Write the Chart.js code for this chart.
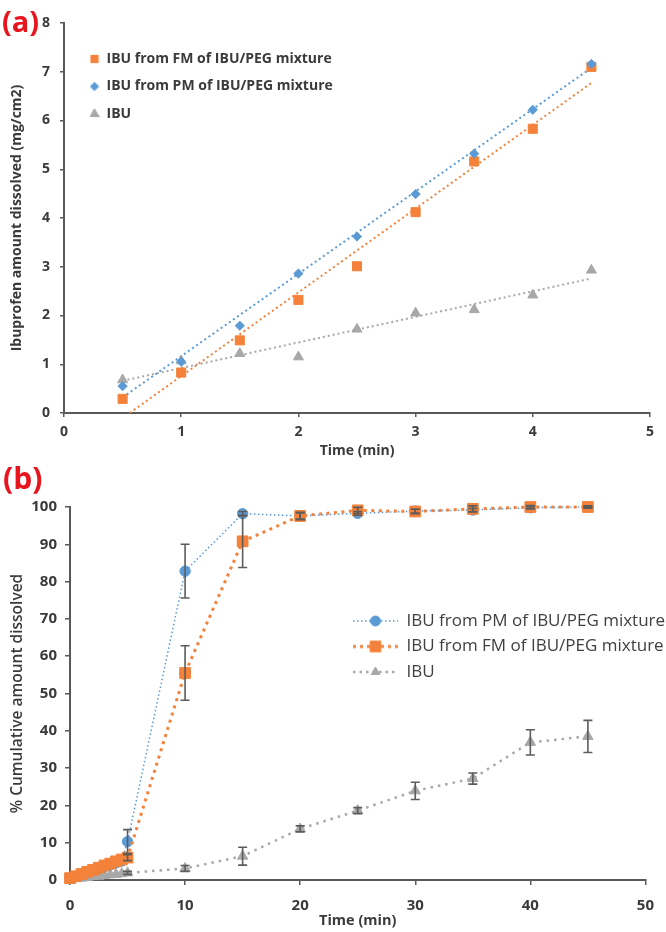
<!DOCTYPE html>
<html>
<head>
<meta charset="utf-8">
<script src="https://cdn.jsdelivr.net/npm/chart.js@4.4.1/dist/chart.umd.min.js"></script>
<style>
  html, body { margin: 0; padding: 0; background: #ffffff; }
  body { width: 666px; height: 932px; position: relative; overflow: hidden; }
  .panel { position: absolute; left: 0; width: 666px; height: 466px; }
  #pa { top: 0; }
  #pb { top: 466px; }
  .tag { position: absolute; color: #e8141e; font: bold 29px "Open Sans", sans-serif; line-height: 29px; }
</style>
</head>
<body>
<div class="panel" id="pa"><canvas id="ca" width="666" height="466"></canvas></div>
<div class="panel" id="pb"><canvas id="cb" width="666" height="466"></canvas></div>
<div class="tag" style="left:2px; top:6px;">(a)</div>
<div class="tag" style="left:3px; top:463px; font-size:30px;">(b)</div>
<script>
// ---------------- DATA: panel (a) ----------------
const seriesFM  = 'IBU from FM of IBU/PEG mixture';
const seriesPM  = 'IBU from PM of IBU/PEG mixture';
const seriesIBU = 'IBU';

const timeA = [0.5, 1, 1.5, 2, 2.5, 3, 3.5, 4, 4.5];
const fmA   = [0.29, 0.83, 1.49, 2.32, 3.01, 4.12, 5.16, 5.83, 7.10];
const pmA   = [0.55, 1.05, 1.79, 2.86, 3.62, 4.49, 5.32, 6.22, 7.16];
const ibuA  = [0.68, 1.07, 1.22, 1.15, 1.72, 2.05, 2.12, 2.42, 2.93];

// linear trend lines (end points)
const fmTrendX  = [0.56, 4.5];  const fmTrendY  = [0, 6.77];
const pmTrendX  = [0.5, 4.5];   const pmTrendY  = [0.32, 7.08];
const ibuTrendX = [0.5, 4.5];   const ibuTrendY = [0.66, 2.76];

const xTicksA = [0, 1, 2, 3, 4, 5];
const yTicksA = [0, 1, 2, 3, 4, 5, 6, 7, 8];

// ---------------- DATA: panel (b) ----------------
const timeB = [0, 0.5, 1, 1.5, 2, 2.5, 3, 3.5, 4, 4.5, 5, 10, 15, 20, 25, 30, 35, 40, 45];
const pmB   = [0.4, 0.9, 1.4, 2.0, 2.5, 3.0, 3.6, 4.1, 4.6, 5.1, 10.3, 82.8, 98.2, 97.6, 98.3, 98.9, 99.2, 99.8, 100];
const fmB   = [0.5, 1.0, 1.6, 2.2, 2.7, 3.3, 3.9, 4.4, 5.0, 5.5, 6.0, 55.5, 90.8, 97.6, 99.1, 98.8, 99.5, 100, 100];
const ibuB  = [0.2, 0.4, 0.5, 0.7, 0.9, 1.0, 1.2, 1.4, 1.5, 1.7, 1.9, 3.1, 6.4, 13.7, 18.6, 23.9, 27.2, 36.9, 38.5];
const pmErrB  = [0, 0, 0, 0, 0, 0, 0, 0, 0, 0, 3.2, 7.2, 0.6, 0.8, 0.5, 0.5, 0.4, 0.3, 0.2];
const fmErrB  = [0, 0, 0, 0, 0, 0, 0, 0, 0, 0, 0.8, 7.3, 7.0, 1.0, 0.8, 0.6, 0.8, 0.4, 0.3];
const ibuErrB = [0, 0, 0, 0, 0, 0, 0, 0, 0, 0, 0.4, 0.8, 2.4, 0.8, 0.8, 2.3, 1.5, 3.4, 4.3];

const xTicksB = [0, 10, 20, 30, 40, 50];
const yTicksB = [0, 10, 20, 30, 40, 50, 60, 70, 80, 90, 100];

// ---------------- STYLE ----------------
const C = { orange: '#F4823A', blue: '#5B9BD5', gray: '#A8A8A8', axis: '#595959', text: '#3a3a3a', err: '#5c5c5c' };
Chart.defaults.font.family = '"Open Sans", sans-serif';
Chart.defaults.color = C.text;

function pts(xs, ys) { return xs.map((x, i) => ({ x: x, y: ys[i] })); }

function glyph(w, h, color, style, r, dash, lw) {
  const c = document.createElement('canvas');
  c.width = w; c.height = h;
  const g = c.getContext('2d');
  if (dash) {
    g.strokeStyle = color; g.lineWidth = lw; g.setLineDash(dash);
    g.beginPath(); g.moveTo(0, h / 2); g.lineTo(w, h / 2); g.stroke();
    g.setLineDash([]);
  }
  g.fillStyle = color; g.strokeStyle = color; g.lineWidth = 1;
  Chart.helpers.drawPoint(g, { pointStyle: style, radius: r, borderWidth: 1, rotation: 0 }, w / 2, h / 2);
  return c;
}

function placeLegend(x, y) {
  return {
    id: 'placeLegend',
    afterLayout(chart) {
      const l = chart.legend;
      const w = l.width, h = l.height;
      l.left = x; l.top = y; l.right = x + w; l.bottom = y + h + 60;
    }
  };
}

const errorBars = {
  id: 'errorBars',
  afterDatasetsDraw(chart) {
    const ctx = chart.ctx, xs = chart.scales.x, ys = chart.scales.y;
    ctx.save();
    ctx.strokeStyle = C.err; ctx.lineWidth = 1.6;
    chart.data.datasets.forEach(ds => {
      if (!ds.errors) return;
      ds.data.forEach((p, i) => {
        const e = ds.errors[i];
        if (!e) return;
        const px = xs.getPixelForValue(p.x);
        const y1 = ys.getPixelForValue(p.y - e), y2 = ys.getPixelForValue(p.y + e);
        const cap = 4.5;
        ctx.beginPath();
        ctx.moveTo(px, y1); ctx.lineTo(px, y2);
        ctx.moveTo(px - cap, y1); ctx.lineTo(px + cap, y1);
        ctx.moveTo(px - cap, y2); ctx.lineTo(px + cap, y2);
        ctx.stroke();
      });
    });
    ctx.restore();
  }
};

function axisCommon(tickArr, fontSize, pad, tickLen) {
  return {
    type: 'linear',
    afterBuildTicks: s => { s.ticks = tickArr.map(v => ({ value: v })); },
    grid: { display: true, drawOnChartArea: false, drawTicks: true, tickLength: tickLen, color: C.axis, lineWidth: 1.5 },
    border: { display: true, color: C.axis, width: 2 },
    ticks: { padding: pad, font: { size: fontSize, weight: 'bold' }, color: C.text }
  };
}

// ---------------- CHART (a) ----------------
const xa = axisCommon(xTicksA, 14, 7, 4);
Object.assign(xa, { min: 0, max: 5, afterFit: s => { s.height = 53; },
  title: { display: true, text: 'Time (min)', color: C.text, font: { size: 14, weight: 'bold' }, padding: { top: 0, bottom: 7 } } });
const ya = axisCommon(yTicksA, 14, 10, 4);
Object.assign(ya, { min: 0, max: 8, afterFit: s => { s.width = 64; },
  title: { display: true, text: 'Ibuprofen amount dissolved (mg/cm2)', color: C.text, font: { size: 14, weight: 'bold' }, padding: { top: 9, bottom: 0 } } });

new Chart(document.getElementById('ca'), {
  type: 'scatter',
  data: {
    datasets: [
      { label: seriesPM, data: pts(timeA, pmA), pointStyle: 'rectRot', pointRadius: 4.6, backgroundColor: C.blue, borderColor: C.blue, borderWidth: 1, order: 0 },
      { label: seriesFM, data: pts(timeA, fmA), pointStyle: 'rect', pointRadius: 6.4, backgroundColor: C.orange, borderColor: C.orange, borderWidth: 1, order: 1 },
      { label: seriesIBU, data: pts(timeA, ibuA), pointStyle: 'triangle', pointRadius: 5.8, backgroundColor: C.gray, borderColor: C.gray, borderWidth: 1, order: 2 },
      { label: 'trendPM', data: pts(pmTrendX, pmTrendY), showLine: true, pointRadius: 0, borderColor: C.blue, borderWidth: 2, borderDash: [2, 3], order: 5 },
      { label: 'trendFM', data: pts(fmTrendX, fmTrendY), showLine: true, pointRadius: 0, borderColor: C.orange, borderWidth: 2, borderDash: [2, 3], order: 6 },
      { label: 'trendIBU', data: pts(ibuTrendX, ibuTrendY), showLine: true, pointRadius: 0, borderColor: C.gray, borderWidth: 2, borderDash: [2, 3], order: 7 }
    ]
  },
  options: {
    responsive: false, animation: false, devicePixelRatio: 1,
    layout: { padding: { left: 0, right: 16, top: 23, bottom: 0 } },
    plugins: {
      tooltip: { enabled: false },
      legend: {
        position: 'chartArea', align: 'start',
        labels: {
          usePointStyle: true, pointStyleWidth: 10, boxHeight: 14, padding: 13.5,
          color: C.text, font: { size: 14, weight: 'bold' },
          generateLabels: () => [
            { text: seriesFM,  pointStyle: glyph(10, 14, C.orange, 'rect', 5.2), fillStyle: C.orange, strokeStyle: C.orange, lineWidth: 0, hidden: false, datasetIndex: 1, fontColor: C.text },
            { text: seriesPM,  pointStyle: glyph(10, 14, C.blue, 'rectRot', 4.2), fillStyle: C.blue, strokeStyle: C.blue, lineWidth: 0, hidden: false, datasetIndex: 0, fontColor: C.text },
            { text: seriesIBU, pointStyle: glyph(10, 14, C.gray, 'triangle', 5.2), fillStyle: C.gray, strokeStyle: C.gray, lineWidth: 0, hidden: false, datasetIndex: 2, fontColor: C.text }
          ]
        }
      }
    },
    scales: { x: xa, y: ya }
  },
  plugins: [placeLegend(76, 38.5)]
});

// ---------------- CHART (b) ----------------
const xb = axisCommon(xTicksB, 15, 12, 5);
Object.assign(xb, { min: 0, max: 50, afterFit: s => { s.height = 52; },
  title: { display: true, text: 'Time (min)', color: C.text, font: { size: 14.5, weight: 'bold' }, padding: { top: 0, bottom: 2 } } });
const yb = axisCommon(yTicksB, 15, 8, 5);
Object.assign(yb, { min: 0, max: 100, afterFit: s => { s.width = 70; },
  title: { display: true, text: '% Cumulative amount dissolved', color: C.text, font: { size: 15.5, weight: '600' }, padding: { top: 8, bottom: 0 } } });

new Chart(document.getElementById('cb'), {
  type: 'scatter',
  data: {
    datasets: [
      { label: seriesPM, data: pts(timeB, pmB), errors: pmErrB, showLine: true, clip: false,
        pointStyle: 'circle', pointRadius: 5.2, backgroundColor: C.blue, borderColor: C.blue, borderWidth: 1.5, borderDash: [1.5, 2.5], pointBorderWidth: 1, order: 1 },
      { label: seriesFM, data: pts(timeB, fmB), errors: fmErrB, showLine: true, clip: false,
        pointStyle: 'rect', pointRadius: 7.6, backgroundColor: C.orange, borderColor: C.orange, borderWidth: 3, borderDash: [3, 4.5], pointBorderWidth: 1, order: 0 },
      { label: seriesIBU, data: pts(timeB, ibuB), errors: ibuErrB, showLine: true, clip: false,
        pointStyle: 'triangle', pointRadius: 6, backgroundColor: C.gray, borderColor: C.gray, borderWidth: 2.5, borderDash: [2.5, 5], pointBorderWidth: 1, order: 2 }
    ]
  },
  options: {
    responsive: false, animation: false, devicePixelRatio: 1,
    layout: { padding: { left: 0, right: 15, top: 41, bottom: 0 } },
    plugins: {
      tooltip: { enabled: false },
      legend: {
        position: 'chartArea', align: 'start',
        labels: {
          usePointStyle: true, pointStyleWidth: 45, boxHeight: 17, padding: 8.5,
          color: '#404040', font: { size: 17, weight: 'normal' },
          generateLabels: () => [
            { text: seriesPM,  pointStyle: glyph(45, 16, C.blue, 'circle', 5, [1.5, 2.5], 1.5), fillStyle: C.blue, strokeStyle: C.blue, lineWidth: 0, hidden: false, datasetIndex: 0, fontColor: '#404040' },
            { text: seriesFM,  pointStyle: glyph(45, 16, C.orange, 'rect', 7.5, [3, 4], 3), fillStyle: C.orange, strokeStyle: C.orange, lineWidth: 0, hidden: false, datasetIndex: 1, fontColor: '#404040' },
            { text: seriesIBU, pointStyle: glyph(45, 16, C.gray, 'triangle', 5, [2.5, 4], 2.5), fillStyle: C.gray, strokeStyle: C.gray, lineWidth: 0, hidden: false, datasetIndex: 2, fontColor: '#404040' }
          ]
        }
      }
    },
    scales: { x: xb, y: yb }
  },
  plugins: [placeLegend(344.5, 138), errorBars]
});
</script>
</body>
</html>
